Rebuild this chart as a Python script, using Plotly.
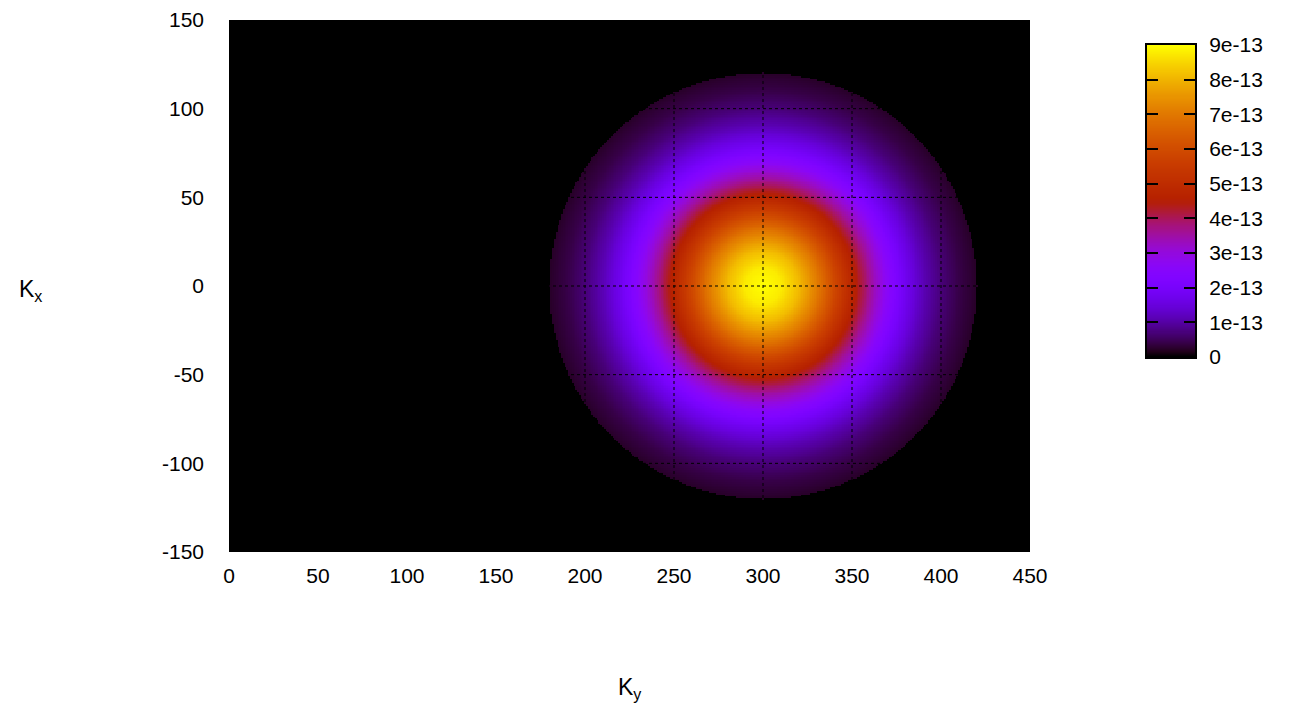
import numpy as np
import plotly.graph_objects as go

# Radial intensity profile of the spot centred at (Ky, Kx) = (300, 0)
radius = [0, 10, 20, 30, 40, 50, 60, 70, 80, 90, 100, 110, 120]
intensity = [9.0e-13, 8.77e-13, 8.1e-13, 7.1e-13, 5.9e-13, 4.74e-13, 3.58e-13,
             2.57e-13, 1.75e-13, 1.13e-13, 0.70e-13, 0.41e-13, 0.225e-13]
center_ky = 300
center_kx = 0
disk_radius = 120

x_ticks = [0, 50, 100, 150, 200, 250, 300, 350, 400, 450]
x_labels = ["0", "50", "100", "150", "200", "250", "300", "350", "400", "450"]
y_ticks = [-150, -100, -50, 0, 50, 100, 150]
y_labels = ["-150", "-100", "-50", "0", "50", "100", "150"]
cb_ticks = [0, 1e-13, 2e-13, 3e-13, 4e-13, 5e-13, 6e-13, 7e-13, 8e-13, 9e-13]
cb_labels = ["0", "1e-13", "2e-13", "3e-13", "4e-13", "5e-13", "6e-13", "7e-13", "8e-13", "9e-13"]
z_max = 9e-13

# gnuplot palette rgbformulae 7,5,15
def gnuplot_palette(n=64):
    scale = []
    for t in np.linspace(0, 1, n):
        r = np.sqrt(t)
        g = t ** 3
        b = np.clip(np.sin(2 * np.pi * t), 0, 1)
        scale.append([float(t), f"rgb({int(round(r*255))},{int(round(g*255))},{int(round(b*255))})"])
    return scale

cscale = gnuplot_palette()

ky = np.arange(0, 450.5, 1.0)
kx = np.arange(-150, 150.5, 1.0)
KY, KX = np.meshgrid(ky, kx)
R = np.hypot(KY - center_ky, KX - center_kx)
Z = np.interp(R, radius, intensity)
Z[R > disk_radius] = 0.0

font = dict(family="Liberation Sans, Arial, sans-serif", size=21, color="black")
title_font = dict(family="Liberation Sans, Arial, sans-serif", size=23, color="black")

fig = go.Figure()
fig.add_trace(go.Heatmap(
    x=ky, y=kx, z=Z, colorscale=cscale, zmin=0, zmax=z_max,
    showscale=False, xaxis="x", yaxis="y", hoverinfo="skip",
))

# colour box
cb_vals = np.linspace(0, z_max, 301)
fig.add_trace(go.Heatmap(
    x=[0], y=cb_vals, z=cb_vals.reshape(-1, 1), colorscale=cscale, zmin=0, zmax=z_max,
    showscale=False, xaxis="x2", yaxis="y2", hoverinfo="skip",
))

W, H = 1295, 705
px_l, px_r, px_t, px_b = 229, 1030, 20, 552
cb_l, cb_r, cb_t, cb_b = 1147, 1195, 45, 357

# dotted grid drawn on top of the map
shapes = []
for xv in x_ticks[1:-1]:
    shapes.append(dict(type="line", xref="x", yref="y", x0=xv, x1=xv, y0=-150, y1=150,
                       line=dict(color="black", width=1, dash="dot"), layer="above"))
for yv in y_ticks[1:-1]:
    shapes.append(dict(type="line", xref="x", yref="y", x0=0, x1=450, y0=yv, y1=yv,
                       line=dict(color="black", width=1, dash="dot"), layer="above"))

fig.update_layout(
    width=W, height=H,
    margin=dict(l=0, r=0, t=0, b=0),
    paper_bgcolor="white", plot_bgcolor="black",
    font=font,
    xaxis=dict(domain=[px_l / W, px_r / W], range=[0, 450],
               tickvals=x_ticks, ticktext=x_labels,
               ticks="", showgrid=False, zeroline=False, showline=False,
               ticklabelstandoff=9, automargin=False, tickfont=font),
    yaxis=dict(domain=[(H - px_b) / H, (H - px_t) / H], range=[-150, 150],
               tickvals=y_ticks, ticktext=y_labels,
               ticks="", showgrid=False, zeroline=False, showline=False,
               ticklabelstandoff=24, automargin=False, tickfont=font),
    xaxis2=dict(domain=[cb_l / W, cb_r / W], range=[-0.5, 0.5], anchor="y2",
                showticklabels=False, ticks="", showgrid=False, zeroline=False,
                showline=True, mirror=True, linecolor="black", linewidth=2),
    yaxis2=dict(domain=[(H - cb_b) / H, (H - cb_t) / H], range=[0, z_max], anchor="x2",
                side="right", tickvals=cb_ticks, ticktext=cb_labels,
                ticks="inside", ticklen=11, tickwidth=2, tickcolor="black",
                showline=True, mirror="ticks", linecolor="black", linewidth=2,
                showgrid=False, zeroline=False, ticklabelstandoff=8,
                automargin=False, tickfont=font),
    shapes=shapes,
    annotations=[
        dict(text="K<sub>x</sub>", xref="paper", yref="paper", x=30 / W, y=(H - 290) / H,
             showarrow=False, font=title_font, xanchor="center", yanchor="middle"),
        dict(text="K<sub>y</sub>", xref="paper", yref="paper", x=630 / W, y=(H - 688) / H,
             showarrow=False, font=title_font, xanchor="center", yanchor="middle"),
    ],
)

fig.write_html("out.html")
